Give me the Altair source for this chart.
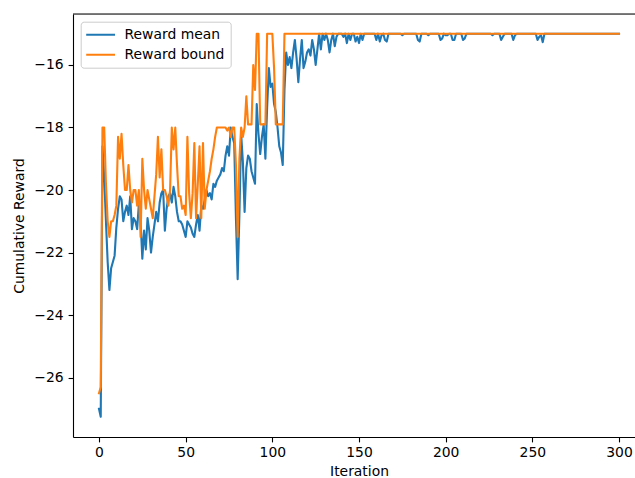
import altair as alt
import pandas as pd

iterations = list(range(301))

reward_mean = [
    -27.0, -27.25, -18.6, -19.6, -21.0, -22.3, -23.2, -22.5, -22.3, -22.1,
    -21.2, -20.6, -20.2, -20.3, -21.0, -20.7, -20.5, -20.8, -20.2, -21.25,
    -20.9, -21.0, -21.25, -20.45, -21.0, -22.2, -21.3, -21.9, -20.9, -21.3,
    -22.0, -21.5, -21.1, -20.7, -21.0, -20.4, -20.1, -20.0, -21.3, -20.6,
    -20.2, -20.1, -20.4, -19.9, -20.2, -20.7, -21.0, -21.0, -21.1, -21.3,
    -21.5, -21.0, -21.1, -21.2, -21.4, -21.5, -21.1, -20.8, -21.3, -20.5,
    -20.6, -20.3, -20.0, -20.2, -20.1, -20.3, -19.8, -19.9, -19.7, -19.6,
    -19.5, -19.3, -19.4, -18.9, -18.6, -18.9, -18.0, -18.3, -18.5, -20.9,
    -22.85, -20.8, -18.2, -19.1, -20.7, -19.3, -18.9, -19.0, -19.4, -19.6,
    -19.8, -17.25, -18.2, -18.85, -18.3, -17.9, -19.0, -17.35, -16.1, -16.7,
    -16.6, -17.25, -17.5, -18.0, -18.6, -18.8, -19.2, -16.8, -15.6, -16.0,
    -15.75, -16.1, -15.6, -15.2, -15.8, -16.55, -15.8, -15.2, -16.1, -15.9,
    -15.6, -15.5, -15.7, -15.2, -15.5, -16.0, -15.5, -15.0, -15.5, -15.0,
    -15.2, -15.0, -15.2, -15.6, -15.2, -15.0, -15.4, -15.1, -15.0, -15.0,
    -15.0, -15.1, -15.0, -15.3, -15.0, -15.2, -15.0, -15.0, -15.25, -15.1,
    -15.3, -15.0, -15.2, -15.0, -15.0, -15.0, -15.0, -15.0, -15.0, -15.0,
    -15.2, -15.0, -15.25, -15.05, -15.0, -15.2, -15.25, -15.0, -15.0, -15.0,
    -15.0, -15.0, -15.0, -15.0, -15.0, -15.05, -15.0, -15.0, -15.0, -15.0,
    -15.0, -15.0, -15.0, -15.0, -15.2, -15.25, -15.0, -15.0, -15.0, -15.0,
    -15.05, -15.0, -15.0, -15.0, -15.0, -15.0, -15.0, -15.2, -15.15, -15.0,
    -15.05, -15.05, -15.0, -15.0, -15.2, -15.2, -15.0, -15.0, -15.0, -15.0,
    -15.2, -15.15, -15.0, -15.0, -15.0, -15.0, -15.0, -15.0, -15.0, -15.0,
    -15.0, -15.0, -15.0, -15.0, -15.0, -15.0, -15.0, -15.05, -15.0, -15.0,
    -15.0, -15.0, -15.2, -15.1, -15.0, -15.0, -15.0, -15.0, -15.0, -15.2,
    -15.05, -15.0, -15.0, -15.0, -15.0, -15.0, -15.0, -15.0, -15.0, -15.0,
    -15.0, -15.0, -15.0, -15.2, -15.1, -15.05, -15.27, -15.0, -15.0, -15.0,
    -15.0, -15.0, -15.0, -15.0, -15.0, -15.0, -15.0, -15.0, -15.0, -15.0,
    -15.0, -15.0, -15.0, -15.0, -15.0, -15.0, -15.0, -15.0, -15.0, -15.0,
    -15.0, -15.0, -15.0, -15.0, -15.0, -15.0, -15.0, -15.0, -15.0, -15.0,
    -15.0, -15.0, -15.0, -15.0, -15.0, -15.0, -15.0, -15.0, -15.0, -15.0,
    -15.0,
]

reward_bound = [
    -26.5, -26.3, -18.0, -18.0, -19.8, -21.0, -21.5, -21.0, -21.0, -20.8,
    -20.5, -18.3, -19.0, -18.2, -19.2, -20.0, -20.0, -19.2, -20.0, -20.4,
    -20.0, -20.0, -20.5, -20.0, -21.5, -19.0, -20.0, -20.6, -20.0, -20.3,
    -20.6, -20.9, -20.2, -19.5, -18.3, -19.6, -18.7, -20.0, -20.0, -20.2,
    -20.5, -20.0, -18.0, -18.7, -18.0, -19.2, -20.2, -20.2, -20.6, -20.5,
    -20.8, -18.3, -20.1, -20.9, -20.1, -18.5, -20.9, -19.8, -18.6, -20.9,
    -18.5, -20.6, -20.0, -19.7, -19.4, -19.0, -18.7, -18.3, -18.0, -18.0,
    -18.0, -18.0, -18.0, -18.0, -18.1, -18.0, -18.3, -18.0, -18.0, -19.2,
    -21.5, -19.0, -18.0, -18.3, -18.0, -17.0, -17.9, -17.9, -17.9, -16.0,
    -16.8, -15.0, -15.0, -17.9, -17.9, -17.9, -17.9, -15.0, -15.0, -15.0,
    -15.0, -16.1, -17.9, -17.9, -17.9, -17.9, -17.9, -15.0, -15.0, -15.0,
    -15.0, -15.0, -15.0, -15.0, -15.0, -15.0, -15.0, -15.0, -15.0, -15.0,
    -15.0, -15.0, -15.0, -15.0, -15.0, -15.0, -15.0, -15.0, -15.0, -15.0,
    -15.0, -15.0, -15.0, -15.0, -15.0, -15.0, -15.0, -15.0, -15.0, -15.0,
    -15.0, -15.0, -15.0, -15.0, -15.0, -15.0, -15.0, -15.0, -15.0, -15.0,
    -15.0, -15.0, -15.0, -15.0, -15.0, -15.0, -15.0, -15.0, -15.0, -15.0,
    -15.0, -15.0, -15.0, -15.0, -15.0, -15.0, -15.0, -15.0, -15.0, -15.0,
    -15.0, -15.0, -15.0, -15.0, -15.0, -15.0, -15.0, -15.0, -15.0, -15.0,
    -15.0, -15.0, -15.0, -15.0, -15.0, -15.0, -15.0, -15.0, -15.0, -15.0,
    -15.0, -15.0, -15.0, -15.0, -15.0, -15.0, -15.0, -15.0, -15.0, -15.0,
    -15.0, -15.0, -15.0, -15.0, -15.0, -15.0, -15.0, -15.0, -15.0, -15.0,
    -15.0, -15.0, -15.0, -15.0, -15.0, -15.0, -15.0, -15.0, -15.0, -15.0,
    -15.0, -15.0, -15.0, -15.0, -15.0, -15.0, -15.0, -15.0, -15.0, -15.0,
    -15.0, -15.0, -15.0, -15.0, -15.0, -15.0, -15.0, -15.0, -15.0, -15.0,
    -15.0, -15.0, -15.0, -15.0, -15.0, -15.0, -15.0, -15.0, -15.0, -15.0,
    -15.0, -15.0, -15.0, -15.0, -15.0, -15.0, -15.0, -15.0, -15.0, -15.0,
    -15.0, -15.0, -15.0, -15.0, -15.0, -15.0, -15.0, -15.0, -15.0, -15.0,
    -15.0, -15.0, -15.0, -15.0, -15.0, -15.0, -15.0, -15.0, -15.0, -15.0,
    -15.0, -15.0, -15.0, -15.0, -15.0, -15.0, -15.0, -15.0, -15.0, -15.0,
    -15.0, -15.0, -15.0, -15.0, -15.0, -15.0, -15.0, -15.0, -15.0, -15.0,
    -15.0,
]

series_names = ["Reward mean", "Reward bound"]
series_colors = ["#1f77b4", "#ff7f0e"]
x_ticks = [0, 50, 100, 150, 200, 250, 300]
y_ticks = [-26, -24, -22, -20, -18, -16]

n = len(iterations)
df = pd.DataFrame({
    "Iteration": iterations + iterations,
    "value": reward_mean + reward_bound,
    "series": [series_names[0]] * n + [series_names[1]] * n,
})

FONT = "DejaVu Sans"
FS = 13.9
W, H = 562, 423

x_enc = alt.X(
    "Iteration:Q",
    scale=alt.Scale(domain=[-15, 309.23], nice=False, zero=False),
    axis=alt.Axis(
        values=x_ticks, title="Iteration", grid=False,
        domain=True, domainColor="black", domainWidth=1.1,
        ticks=True, tickColor="black", tickWidth=1.1, tickSize=4.9,
        labelPadding=3.5, labelFont=FONT, labelFontSize=FS, labelColor="black",
        labelFlush=False, labelOverlap=False,
        titleFont=FONT, titleFontSize=FS, titleFontWeight="normal", titleColor="black",
        titleX=286, titleY=38, titleBaseline="alphabetic", titleAlign="center",
    ),
)
y_enc = alt.Y(
    "value:Q",
    scale=alt.Scale(domain=[-27.9, -14.37], nice=False, zero=False),
    axis=alt.Axis(
        values=y_ticks, title="Cumulative Reward", grid=False,
        domain=True, domainColor="black", domainWidth=1.1,
        ticks=True, tickColor="black", tickWidth=1.1, tickSize=4.9,
        labelPadding=4.9, labelFont=FONT, labelFontSize=FS, labelColor="black",
        labelFlush=False, labelOverlap=False,
        titleFont=FONT, titleFontSize=FS, titleFontWeight="normal", titleColor="black",
        titleX=-54, titleY=H / 2, titleAngle=270, titleAlign="center", titleBaseline="middle",
    ),
)
color_enc = alt.Color(
    "series:N",
    scale=alt.Scale(domain=series_names, range=series_colors),
    legend=alt.Legend(
        title=None, orient="none", legendX=7.7, legendY=7.7,
        symbolType="stroke", symbolSize=900, symbolStrokeWidth=2.1,
        symbolOffset=-2.7, clipHeight=15,
        labelFont=FONT, labelFontSize=FS, labelColor="black", labelOffset=8,
        fillColor="rgba(255,255,255,0.8)", strokeColor="#cccccc",
        padding=5.5, cornerRadius=3, rowPadding=5,
    ),
)

base = alt.Chart(df)
mean_line = base.transform_filter(alt.datum.series == series_names[0]).mark_line(
    strokeWidth=2.1, strokeJoin="round", strokeCap="square"
).encode(x=x_enc, y=y_enc, color=color_enc)
bound_line = base.transform_filter(alt.datum.series == series_names[1]).mark_line(
    strokeWidth=2.1, strokeJoin="round", strokeCap="square"
).encode(x=x_enc, y=y_enc, color=color_enc)

top_spine = alt.Chart(pd.DataFrame({"k": [0]})).mark_rule(
    color="black", strokeWidth=1.1
).encode(x=alt.value(0), x2=alt.value(W), y=alt.value(0))

chart = alt.layer(mean_line, bound_line, top_spine).properties(
    width=W, height=H,
    padding={"left": 73, "top": 14, "right": 0, "bottom": 41},
    autosize=alt.AutoSizeParams(type="none"),
    background="white",
).configure_view(strokeWidth=0).configure(font=FONT)

chart.save("out.html", embed_options={"renderer": "svg", "actions": False})
